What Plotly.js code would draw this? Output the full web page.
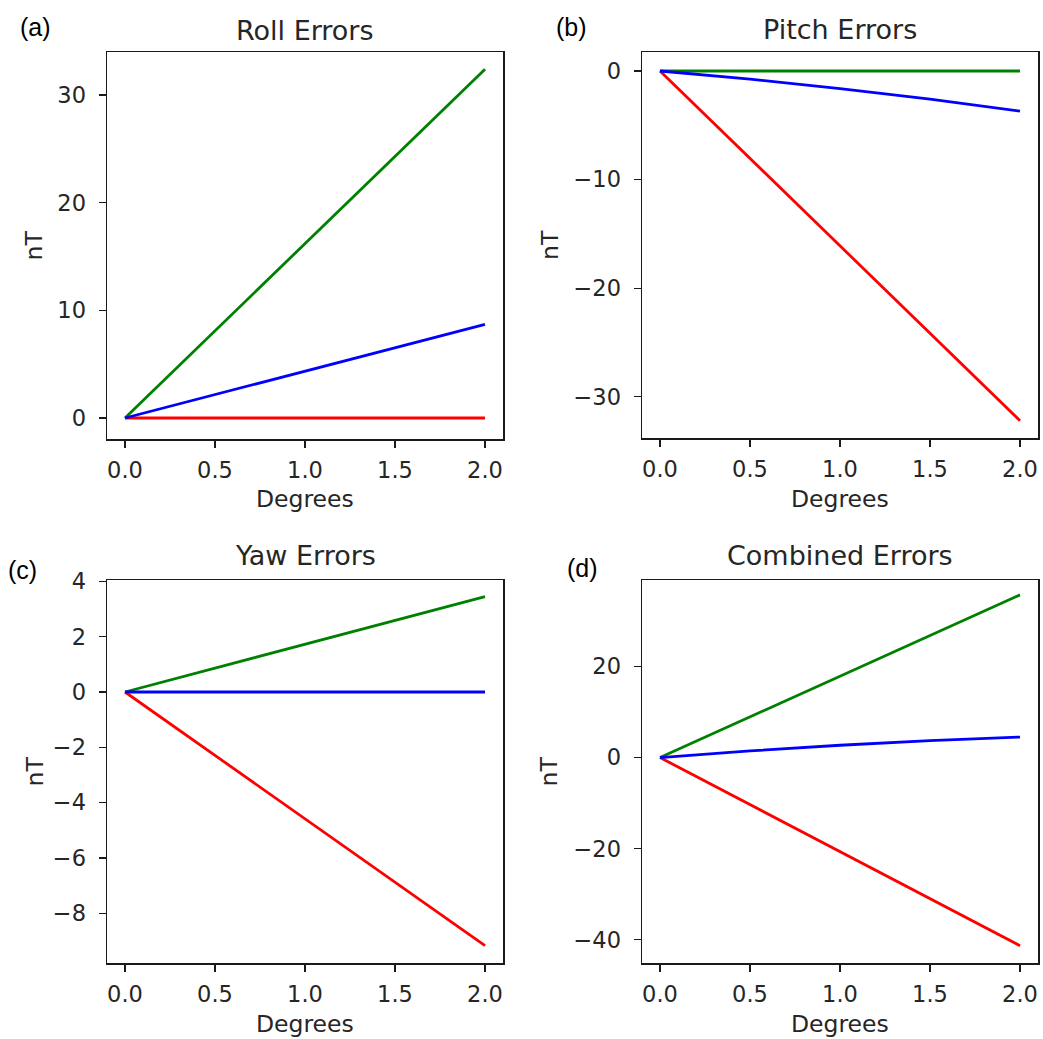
<!DOCTYPE html>
<html>
<head>
<meta charset="utf-8">
<script src="https://cdn.plot.ly/plotly-3.0.1.min.js"></script>
<style>
  html, body { margin: 0; padding: 0; background: #fff; }
  #chart { width: 1043px; height: 1039px; }
</style>
</head>
<body>
<div id="chart"></div>
<script>
// Rotation angle in degrees
const degrees = [0, 0.5, 1.0, 1.5, 2.0];

// Roll errors (nT)
const rollGreen = [0, 8.1, 16.2, 24.3, 32.4];
const rollBlue  = [0, 2.18, 4.35, 6.53, 8.7];
const rollRed   = [0, 0, 0, 0, 0];

// Pitch errors (nT)
const pitchGreen = [0, 0, 0, 0, 0];
const pitchBlue  = [0, -0.75, -1.62, -2.6, -3.7];
const pitchRed   = [0, -8.05, -16.1, -24.15, -32.2];

// Yaw errors (nT)
const yawGreen = [0, 0.86, 1.72, 2.59, 3.45];
const yawBlue  = [0, 0, 0, 0, 0];
const yawRed   = [0, -2.29, -4.58, -6.88, -9.17];

// Combined errors (nT)
const combGreen = [0, 8.9, 17.8, 26.8, 35.7];
const combBlue  = [0, 1.45, 2.7, 3.7, 4.5];
const combRed   = [0, -10.3, -20.6, -30.9, -41.3];

const panelTitles = ['Roll Errors', 'Pitch Errors', 'Yaw Errors', 'Combined Errors'];
const panelLetters = ['(a)', '(b)', '(c)', '(d)'];
const xTicks = [0, 0.5, 1.0, 1.5, 2.0];
const xTickText = ['0.0', '0.5', '1.0', '1.5', '2.0'];
const yTicks = [
  [0, 10, 20, 30],
  [-30, -20, -10, 0],
  [-8, -6, -4, -2, 0, 2, 4],
  [-40, -20, 0, 20]
];
const xLabel = 'Degrees';
const yLabel = 'nT';

const W = 1043, H = 1039;
const GREEN = '#008000', BLUE = '#0000ff', RED = '#ff0000';
const TXT = '#262626';

// plot-area boxes in pixels: [left, right, top, bottom]
const boxes = [
  [107, 503, 52, 439],
  [642, 1038, 52, 438],
  [107, 503, 580, 963],
  [642, 1038, 580, 963]
];
const yRanges = [
  [-1.95, 34.0],
  [-33.8, 1.75],
  [-9.8, 4.05],
  [-45.1, 38.97]
];

const series = [
  [rollRed, rollGreen, rollBlue],
  [pitchRed, pitchGreen, pitchBlue],
  [yawRed, yawGreen, yawBlue],
  [combRed, combGreen, combBlue]
];
const colors = [RED, GREEN, BLUE];

const data = [];
series.forEach((group, i) => {
  const sfx = i === 0 ? '' : String(i + 1);
  group.forEach((ys, j) => {
    data.push({
      x: degrees, y: ys, type: 'scatter', mode: 'lines',
      line: { color: colors[j], width: 2.8 },
      xaxis: 'x' + sfx, yaxis: 'y' + sfx,
      showlegend: false, hoverinfo: 'skip'
    });
  });
});

const layout = {
  width: W, height: H,
  margin: { l: 0, r: 0, t: 0, b: 0 },
  paper_bgcolor: '#fff', plot_bgcolor: '#fff',
  font: { family: 'DejaVu Sans', color: TXT, size: 22 },
  showlegend: false,
  annotations: []
};

const axisCommon = {
  showgrid: false, zeroline: false,
  showline: true, mirror: true, linecolor: '#1a1a1a', linewidth: 1.5,
  ticks: 'outside', ticklen: 7, tickwidth: 1.3, tickcolor: '#1a1a1a',
  tickfont: { family: 'DejaVu Sans', size: 22.5, color: TXT },
  fixedrange: true
};

boxes.forEach((b, i) => {
  const sfx = i === 0 ? '' : String(i + 1);
  const [l, r, t, bt] = b;
  layout['xaxis' + sfx] = Object.assign({}, axisCommon, {
    domain: [l / W, r / W],
    anchor: 'y' + sfx,
    range: [-0.1, 2.1],
    tickmode: 'array', tickvals: xTicks, ticktext: xTickText,
    ticklabelstandoff: 3
  });
  layout['yaxis' + sfx] = Object.assign({}, axisCommon, {
    domain: [1 - bt / H, 1 - t / H],
    anchor: 'x' + sfx,
    range: yRanges[i],
    tickmode: 'array', tickvals: yTicks[i],
    ticklabelstandoff: 8
  });

  const cx = (l + r) / 2;
  const cy = (t + bt) / 2;
  // subplot title
  layout.annotations.push({
    text: panelTitles[i], xref: 'paper', yref: 'paper',
    x: cx / W, y: 1 - (t - 22) / H, xanchor: 'center', yanchor: 'middle',
    showarrow: false, font: { family: 'DejaVu Sans', size: 27, color: TXT }
  });
  // panel letter
  layout.annotations.push({
    text: panelLetters[i], xref: 'paper', yref: 'paper',
    x: (l - 72) / W, y: 1 - (t - 25) / H, xanchor: 'center', yanchor: 'middle',
    showarrow: false, font: { family: 'Liberation Sans', size: 25, color: '#000' }
  });
  // x-axis title
  layout.annotations.push({
    text: xLabel, xref: 'paper', yref: 'paper',
    x: cx / W, y: 1 - (bt + 61) / H, xanchor: 'center', yanchor: 'middle',
    showarrow: false, font: { family: 'DejaVu Sans', size: 23.5, color: TXT }
  });
  // y-axis title
  layout.annotations.push({
    text: yLabel, xref: 'paper', yref: 'paper',
    x: (l - 73) / W, y: 1 - cy / H, xanchor: 'center', yanchor: 'middle',
    textangle: -90,
    showarrow: false, font: { family: 'DejaVu Sans', size: 23.5, color: TXT }
  });
});

// positions of panel letters differ slightly per row/column
layout.annotations[1].x = 35 / W;  layout.annotations[1].y = 1 - 27 / H;
layout.annotations[5].x = 571 / W; layout.annotations[5].y = 1 - 27 / H;
layout.annotations[9].x = 22 / W;  layout.annotations[9].y = 1 - 570 / H;
layout.annotations[13].x = 582 / W; layout.annotations[13].y = 1 - 568 / H;
// subplot title rows
layout.annotations[0].y = 1 - 30 / H;
layout.annotations[4].y = 1 - 29 / H;
layout.annotations[8].y = 1 - 555 / H;
layout.annotations[12].y = 1 - 555 / H;
// x-axis title rows
layout.annotations[2].y = 1 - 499 / H;
layout.annotations[6].y = 1 - 499 / H;
layout.annotations[10].y = 1 - 1024 / H;
layout.annotations[14].y = 1 - 1024 / H;
// y-axis title columns
layout.annotations[3].x = 34 / W;
layout.annotations[7].x = 550 / W;
layout.annotations[11].x = 34 / W;
layout.annotations[15].x = 548 / W;

Plotly.newPlot('chart', data, layout, { staticPlot: true, displayModeBar: false });
</script>
</body>
</html>
